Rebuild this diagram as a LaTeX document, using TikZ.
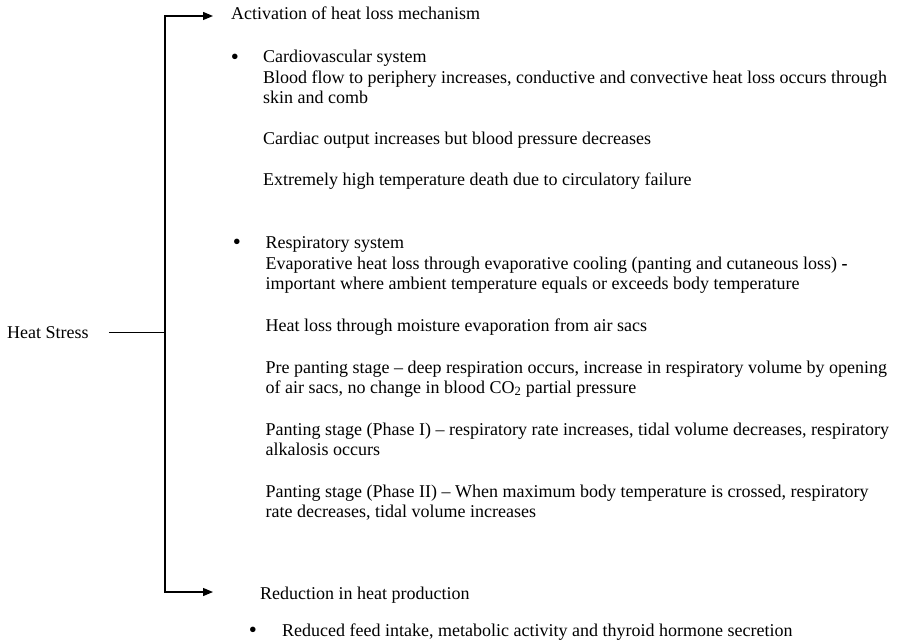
\documentclass[tikz,border=0pt]{standalone}
\usepackage{fontspec}
\setmainfont{Liberation Serif}
\usetikzlibrary{arrows.meta}
\tikzset{
  txt/.style={anchor=base west, inner sep=0pt, font=\fontsize{18}{20.5}\selectfont},
  dot/.style={anchor=base, inner sep=0pt, font=\fontsize{23}{23}\selectfont},
  branch/.style={line width=1.2pt, {Triangle[length=10pt,width=8pt]}-{Triangle[length=10pt,width=8pt]}},
  stem/.style={line width=1.1pt}
}
\begin{document}
\begin{tikzpicture}[x=1pt,y=-1pt]
\useasboundingbox (0,0) rectangle (899,642) ;
\node [txt] (hs) at (7,338) {Heat Stress} ;
\coordinate (top) at (165,16) ;
\coordinate (bot) at (165,592) ;
\coordinate (acttip) at (213,16) ;
\coordinate (redtip) at (213,592) ;
\draw [branch] (acttip) -- (top) -- (bot) -- (redtip) ;
\draw [stem] ([xshift=20pt]hs.east) -- (hs.east -| top) ;
% heat loss
\node [txt] (act) at (231,20) {Activation of heat loss mechanism} ;
\node [dot] (bcv) at (235,64.5) {\textbullet} ;
\node [txt] (cv1) at (263,63) {Cardiovascular system} ;
\node [txt] (cv2) at (263,83) {Blood flow to periphery increases, conductive and convective heat loss occurs through} ;
\node [txt] (cv3) at (263,103) {skin and comb} ;
\node [txt] (cv4) at (263,144) {Cardiac output increases but blood pressure decreases} ;
\node [txt] (cv5) at (263,185) {Extremely high temperature death due to circulatory failure} ;
\node [dot] (brs) at (237,249.5) {\textbullet} ;
\node [txt] (rs1) at (265.5,248) {Respiratory system} ;
\node [txt] (rs2) at (265.5,269) {Evaporative heat loss through evaporative cooling (panting and cutaneous loss) \textbf{-}} ;
\node [txt] (rs3) at (265.5,289) {important where ambient temperature equals or exceeds body temperature} ;
\node [txt] (rs4) at (265.5,331) {Heat loss through moisture evaporation from air sacs} ;
\node [txt] (rs5) at (265.5,373) {Pre panting stage – deep respiration occurs, increase in respiratory volume by opening} ;
\node [txt] (rs6) at (265.5,393) {of air sacs, no change in blood CO\textsubscript{2} partial pressure} ;
\node [txt] (rs7) at (265.5,435) {Panting stage (Phase I) – respiratory rate increases, tidal volume decreases, respiratory} ;
\node [txt] (rs8) at (265.5,455) {alkalosis occurs} ;
\node [txt] (rs9) at (265.5,497) {Panting stage (Phase II) – When maximum body temperature is crossed, respiratory} ;
\node [txt] (rs10) at (265.5,517) {rate decreases, tidal volume increases} ;
% heat production
\node [txt] (red) at (260,599) {Reduction in heat production} ;
\node [dot] (bhp) at (253,637.5) {\textbullet} ;
\node [txt] (hp1) at (282,636) {Reduced feed intake, metabolic activity and thyroid hormone secretion} ;
\end{tikzpicture}
\end{document}
